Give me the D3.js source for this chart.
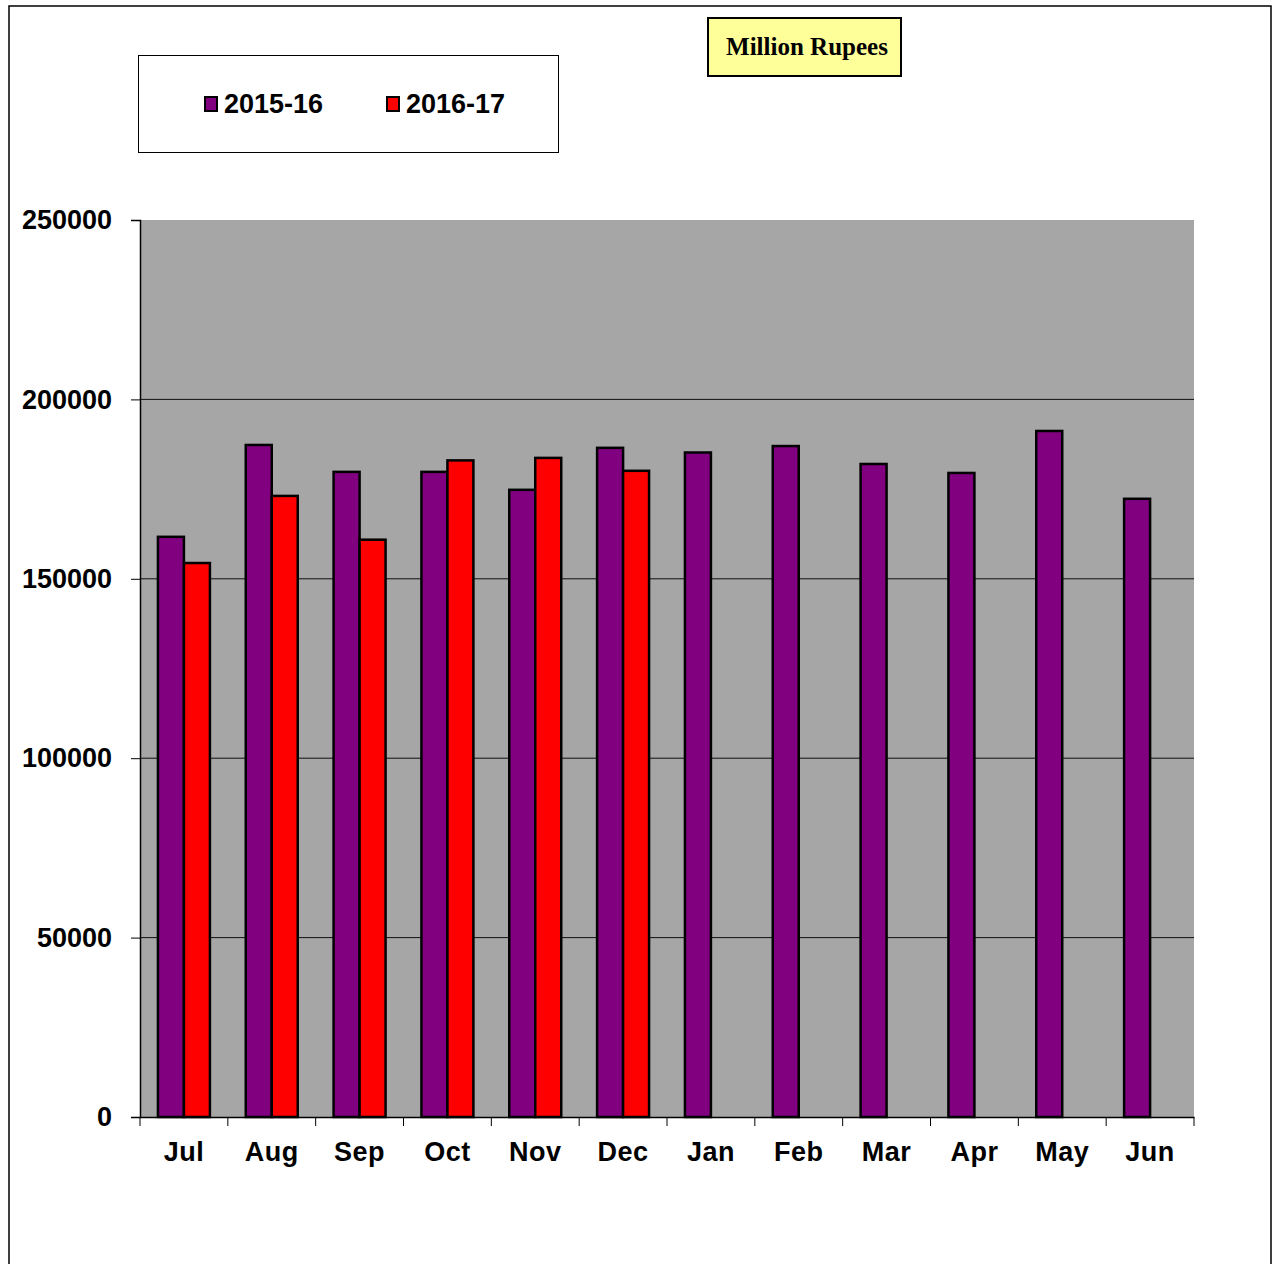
<!DOCTYPE html>
<html>
<head>
<meta charset="utf-8">
<script src="https://cdn.jsdelivr.net/npm/d3@7"></script>
<style>
  body { margin: 0; background: #fff; }
</style>
</head>
<body>
<div id="chart"></div>
<script>
var months = ['Jul', 'Aug', 'Sep', 'Oct', 'Nov', 'Dec', 'Jan', 'Feb', 'Mar', 'Apr', 'May', 'Jun'];
var series = ['2015-16', '2016-17'];
var values1516 = [161700, 187300, 179800, 179800, 174800, 186500, 185200, 187000, 182000, 179500, 191200, 172300];
var values1617 = [154400, 173100, 160900, 183000, 183700, 180100];
var yTicks = [0, 50000, 100000, 150000, 200000, 250000];
var colors = ['#800080', '#FF0000'];

var svg = d3.select('#chart')
  .append('svg')
    .attr('width', 1274)
    .attr('height', 1264);

// outer frame
svg.append('rect')
  .attr('x', 9).attr('y', 6)
  .attr('width', 1262).attr('height', 1270)
  .style('fill', 'none')
  .style('stroke', '#000')
  .style('stroke-width', 1.5);

var plotLeft = 140, plotRight = 1194, plotTop = 220, plotBottom = 1117;

var x0 = d3.scaleBand().domain(months).range([plotLeft, plotRight]);
var x1 = d3.scaleBand().domain(series).range([0, x0.bandwidth()]).paddingOuter(0.69);
var y = d3.scaleLinear().domain([0, 250000]).range([plotBottom, plotTop]);

// plot background
svg.append('rect')
  .attr('x', plotLeft).attr('y', plotTop)
  .attr('width', plotRight - plotLeft).attr('height', plotBottom - plotTop)
  .style('fill', '#A6A6A6');

// gridlines
svg.append('g')
  .selectAll('line')
  .data(yTicks.filter(function(d) { return d > 0 && d < 250000; }))
  .enter().append('line')
    .attr('x1', plotLeft).attr('x2', plotRight)
    .attr('y1', function(d) { return y(d); })
    .attr('y2', function(d) { return y(d); })
    .style('stroke', '#111')
    .style('stroke-width', 1);

// bars
var rows = months.map(function(m, i) {
  return { month: m, vals: [values1516[i], values1617[i]] };
});

var groups = svg.append('g')
  .selectAll('g')
  .data(rows)
  .enter().append('g')
    .attr('transform', function(d) { return 'translate(' + x0(d.month) + ',0)'; });

groups.selectAll('rect')
  .data(function(d) {
    return d.vals.map(function(v, j) { return { key: series[j], value: v, color: colors[j] }; })
      .filter(function(b) { return b.value != null; });
  })
  .enter().append('rect')
    .attr('x', function(d) { return x1(d.key); })
    .attr('y', function(d) { return y(d.value); })
    .attr('width', x1.bandwidth())
    .attr('height', function(d) { return plotBottom - y(d.value); })
    .style('fill', function(d) { return d.color; })
    .style('stroke', '#000')
    .style('stroke-width', 2.5);

// axes
var yAxis = d3.axisLeft(y).tickValues(yTicks).tickSize(9).tickPadding(19).tickFormat(d3.format('d'));
var gy = svg.append('g')
  .attr('transform', 'translate(' + plotLeft + ',0)')
  .call(yAxis);

var xAxis = d3.axisBottom(x0).tickSize(0).tickPadding(25);
var gx = svg.append('g')
  .attr('transform', 'translate(0,' + plotBottom + ')')
  .call(xAxis);

// category boundary ticks on x axis
gx.selectAll('line.sep')
  .data(d3.range(months.length + 1))
  .enter().append('line')
    .attr('class', 'sep')
    .attr('x1', function(i) { return plotLeft + i * x0.step(); })
    .attr('x2', function(i) { return plotLeft + i * x0.step(); })
    .attr('y1', 0).attr('y2', 9)
    .style('stroke', '#000');

svg.selectAll('.domain').style('stroke', '#000').style('stroke-width', 1.5);
gy.selectAll('.tick line').style('stroke', '#000');
svg.selectAll('.tick text')
  .style('font-family', 'Liberation Sans, Arial, sans-serif')
  .style('font-weight', 'bold')
  .style('font-size', '27px')
  .style('fill', '#000');
gx.selectAll('.tick text').style('letter-spacing', '0.5px');

// legend
var legend = svg.append('g');
legend.append('rect')
  .attr('x', 138.5).attr('y', 55.5)
  .attr('width', 420).attr('height', 97)
  .style('fill', '#fff')
  .style('stroke', '#000')
  .style('stroke-width', 1);

var legendX = [205, 387];
series.forEach(function(s, i) {
  legend.append('rect')
    .attr('x', legendX[i]).attr('y', 97)
    .attr('width', 12).attr('height', 14)
    .style('fill', colors[i])
    .style('stroke', '#000')
    .style('stroke-width', 2);
  legend.append('text')
    .attr('x', legendX[i] + 19).attr('y', 113)
    .style('font-family', 'Liberation Sans, Arial, sans-serif')
    .style('font-weight', 'bold')
    .style('font-size', '27px')
    .text(s);
});

// unit label
svg.append('rect')
  .attr('x', 708).attr('y', 18)
  .attr('width', 193).attr('height', 58)
  .style('fill', '#FFFF99')
  .style('stroke', '#000')
  .style('stroke-width', 2);

svg.append('text')
  .attr('x', 807).attr('y', 55)
  .attr('text-anchor', 'middle')
  .style('font-family', 'Liberation Serif, Times New Roman, serif')
  .style('font-weight', 'bold')
  .style('font-size', '25px')
  .text('Million Rupees');
</script>
</body>
</html>
